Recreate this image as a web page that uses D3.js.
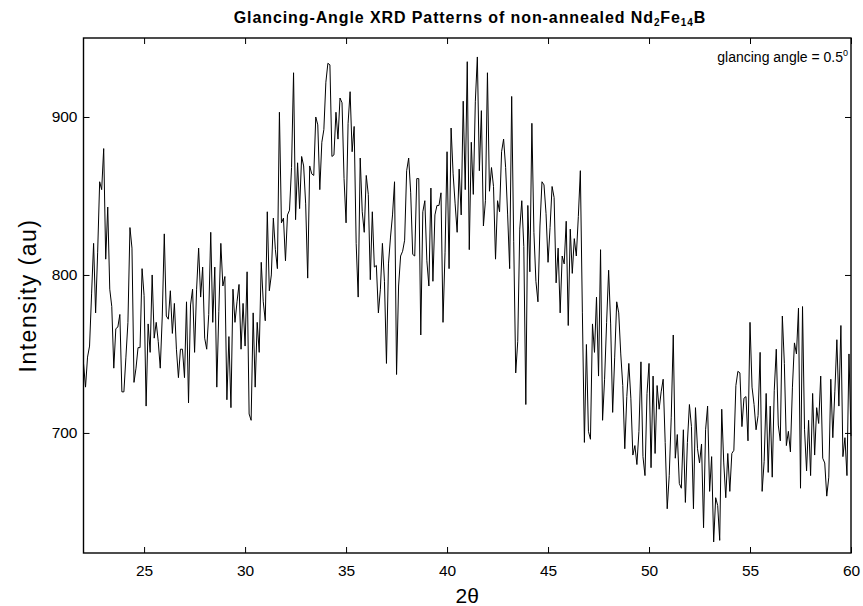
<!DOCTYPE html>
<html>
<head>
<meta charset="utf-8">
<script src="https://cdn.jsdelivr.net/npm/d3@7"></script>
<style>
body { margin: 0; background: #fff; }
svg text { font-family: "Liberation Sans", Arial, sans-serif; fill: #000; }
</style>
</head>
<body>
<div id="graph"></div>
<script>
// scan settings (2-theta, degrees)
var startAngle = 22;
var stepAngle = 0.1;

// measured intensity, one value per step
var intensity = [
  744, 729, 748, 755, 788, 820, 776, 814, 859, 854, 880, 810, 843, 791, 780, 741, 766, 767, 775, 726, 726, 748, 770, 830, 817, 732, 741, 754, 754, 804, 787, 717, 769, 751, 800, 760,
  770, 758, 741, 774, 826, 774, 772, 790, 763, 782, 753, 735, 753, 753, 735, 783, 719, 781, 791, 751, 791, 817, 786, 805, 760, 753, 775, 827, 770, 805, 729, 777, 820, 793, 799,
  721, 761, 716, 791, 770, 783, 794, 753, 782, 755, 802, 712, 708, 776, 729, 770, 751, 808, 783, 771, 840, 790, 800, 836, 816, 804, 903, 833, 836, 809, 838, 841, 868,
  928, 835, 871, 842, 875, 869, 845, 798, 869, 864, 863, 900, 895, 854, 884, 892, 922, 934, 933, 875, 876, 903, 886, 912, 909, 861, 833, 896, 916, 878, 894, 820, 786, 874, 840, 827,
  863, 851, 797, 840, 805, 806, 776, 791, 820, 796, 744, 807, 824, 838, 859, 737, 793, 812, 815, 822, 866, 874, 852, 813, 812, 861, 861, 762, 840, 847, 809, 793, 855, 796, 838,
  844, 844, 852, 770, 814, 878, 804, 893, 864, 845, 827, 867, 838, 910, 854, 935, 816, 884, 851, 910, 938, 866, 904, 831, 847, 928, 853, 868, 856, 810, 847, 840, 878, 886, 868,
  838, 804, 913, 821, 738, 758, 829, 847, 818, 718, 844, 802, 896, 827, 796, 783, 831, 859, 857, 839, 808, 830, 856, 849, 795, 817, 776, 812, 807, 834, 768, 829, 801, 823,
  812, 837, 866, 776, 694, 756, 701, 696, 769, 751, 786, 736, 816, 708, 734, 770, 803, 769, 713, 748, 783, 776, 750, 730, 690, 723, 744, 722, 686, 692, 680, 701, 745, 685,
  673, 725, 744, 678, 736, 687, 730, 715, 726, 734, 694, 652, 673, 710, 762, 684, 699, 668, 665, 702, 656, 694, 718, 704, 652, 716, 690, 681, 693, 640, 702, 717, 663, 685, 631,
  659, 654, 632, 715, 681, 659, 687, 663, 687, 689, 730, 739, 738, 704, 722, 723, 695, 770, 729, 718, 702, 711, 751, 663, 682, 725, 675, 717, 672, 727, 753, 705, 695, 774,
  744, 692, 701, 688, 729, 757, 750, 779, 665, 780, 702, 676, 708, 673, 725, 686, 716, 706, 736, 684, 681, 660, 672, 734, 697, 726, 759, 717, 768, 685, 697, 673, 750, 698
];

var xTicks = [25, 30, 35, 40, 45, 50, 55, 60];
var yTicks = [700, 800, 900];
var xDomain = [22, 60];
var yDomain = [624, 950];

(function(){
	"use strict";

	var width = 863, height = 606;
	var margin = {top: 38, right: 12, bottom: 53, left: 83.5};

	var svg = d3.select("#graph").append("svg")
		.attr("width", width)
		.attr("height", height);

	var xScale = d3.scaleLinear()
		.domain(xDomain)
		.range([margin.left, width - margin.right]);

	var yScale = d3.scaleLinear()
		.domain(yDomain)
		.range([height - margin.bottom, margin.top]);

	var points = intensity.map(function(v, i){
		return {angle: startAngle + i * stepAngle, value: v};
	});

	// the pattern itself
	var line = d3.line()
		.x(function(d){ return xScale(d.angle); })
		.y(function(d){ return yScale(d.value); });

	svg.append("path")
		.datum(points)
		.attr("d", line)
		.attr("fill", "none")
		.attr("stroke", "#000")
		.attr("stroke-width", 1);

	// axes, ticks point inwards
	svg.append("g")
		.attr("transform", "translate(0," + (height - margin.bottom) + ")")
		.call(d3.axisBottom(xScale).tickValues(xTicks).tickSize(-6).tickPadding(12));

	svg.append("g")
		.attr("transform", "translate(0," + margin.top + ")")
		.call(d3.axisTop(xScale).tickValues(xTicks).tickSize(-6).tickFormat(""));

	svg.append("g")
		.attr("transform", "translate(" + margin.left + ",0)")
		.call(d3.axisLeft(yScale).tickValues(yTicks).tickSize(-6).tickPadding(6));

	svg.append("g")
		.attr("transform", "translate(" + (width - margin.right) + ",0)")
		.call(d3.axisRight(yScale).tickValues(yTicks).tickSize(-6).tickFormat(""));

	svg.selectAll(".domain").remove();
	svg.selectAll(".tick line").attr("stroke", "#000");
	svg.selectAll(".tick text").style("font-size", "15.5px")
		.style("font-family", "'Liberation Sans', Arial, sans-serif");

	// frame
	svg.append("rect")
		.attr("x", margin.left)
		.attr("y", margin.top)
		.attr("width", width - margin.left - margin.right)
		.attr("height", height - margin.top - margin.bottom)
		.attr("fill", "none")
		.attr("stroke", "#000")
		.attr("stroke-width", 1.4);

	// title with subscripts
	var title = svg.append("text")
		.attr("x", 470)
		.attr("y", 23)
		.attr("text-anchor", "middle")
		.style("font-size", "16px")
		.style("letter-spacing", "0.9px")
		.style("font-weight", "bold");
	title.append("tspan").text("Glancing-Angle XRD Patterns of non-annealed Nd");
	title.append("tspan").attr("dy", 3).style("font-size", "10px").text("2");
	title.append("tspan").attr("dy", -3).text("Fe");
	title.append("tspan").attr("dy", 3).style("font-size", "10px").text("14");
	title.append("tspan").attr("dy", -3).text("B");

	// note in the corner
	var note = svg.append("text")
		.attr("x", 848)
		.attr("y", 62)
		.attr("text-anchor", "end")
		.style("font-size", "14px");
	note.append("tspan").text("glancing angle = 0.5");
	note.append("tspan").attr("dy", -6).style("font-size", "9px").text("0");

	// axis titles
	svg.append("text")
		.attr("text-anchor", "middle")
		.attr("transform", "translate(36," + ((margin.top + height - margin.bottom) / 2) + ")rotate(-90)")
		.style("font-size", "23px")
		.style("letter-spacing", "1.5px")
		.text("Intensity (au)");

	svg.append("text")
		.attr("text-anchor", "middle")
		.attr("x", (margin.left + width - margin.right) / 2)
		.attr("y", 603)
		.style("font-size", "21px")
		.text("2θ");
})();
</script>
</body>
</html>
